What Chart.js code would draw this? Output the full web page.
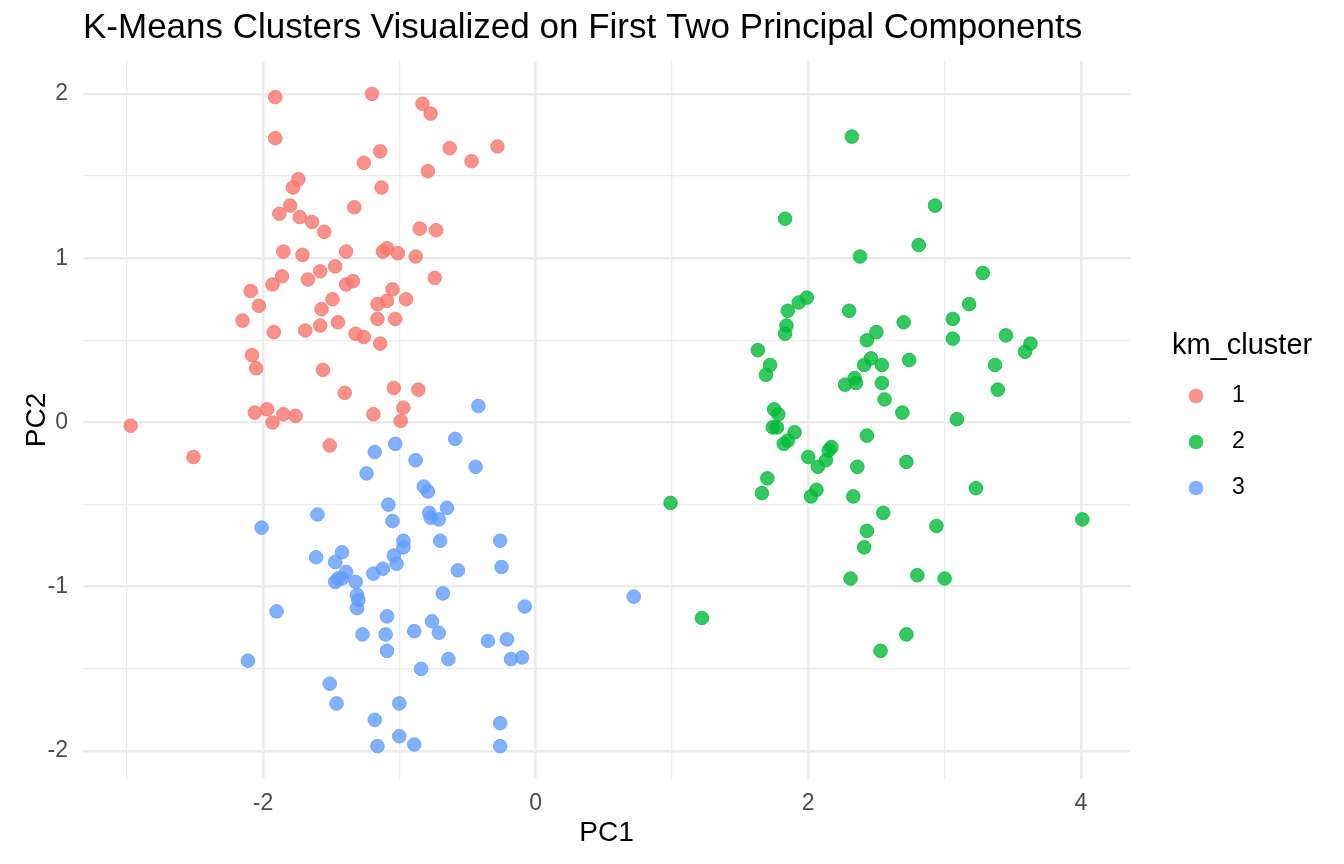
<!DOCTYPE html>
<html>
<head>
  <meta charset="UTF-8">
  <title>K-Means Clusters on PCA</title>
  <script src="https://cdn.jsdelivr.net/npm/chart.js"></script>
  <style>
    body {
      margin: 0;
      background: #fff;
    }
    #wrap {
      position: relative;
      width: 1344px;
      height: 864px;
    }
  </style>
</head>
<body>
<div id="wrap">
  <canvas id="chart"></canvas>
</div>

<script>
  // Cluster labels and colours (ggplot default hues)
  const clusterLabels = ['1', '2', '3'];
  const clusterColors = ['#F8766D', '#00BA38', '#619CFF'];

  // Cluster 1 (red)
  const clusterOnePC1 = [
    -1.91, -1.20, -0.83, -0.77, -1.91, -0.63, -0.28, -0.47, -1.14, -1.26,
    -0.79, -1.74, -1.78, -1.13, -1.80, -1.88, -1.73, -1.64, -1.55, -1.33,
    -0.85, -0.73, -1.85, -1.71, -1.39, -1.09, -1.12, -1.01, -0.88, -1.86,
    -1.67, -1.58, -1.47, -1.34, -1.39, -0.74, -1.93, -2.09, -2.03, -2.15,
    -1.92, -1.69, -1.58, -1.45, -1.57, -1.49, -1.05, -1.09, -1.16, -0.95,
    -1.16, -1.03, -1.32, -1.26, -1.14, -2.08, -2.05, -1.56, -1.40, -1.04,
    -0.86, -2.06, -1.97, -1.93, -1.85, -1.76, -1.19, -0.97, -0.99, -2.97,
    -2.51, -1.51
  ];
  const clusterOnePC2 = [
    1.98, 2.00, 1.94, 1.88, 1.73, 1.67, 1.68, 1.59, 1.65, 1.58,
    1.53, 1.48, 1.43, 1.43, 1.32, 1.27, 1.25, 1.22, 1.16, 1.31,
    1.18, 1.17, 1.04, 1.02, 1.04, 1.06, 1.04, 1.03, 1.01, 0.89,
    0.87, 0.92, 0.95, 0.86, 0.84, 0.88, 0.84, 0.80, 0.71, 0.62,
    0.55, 0.56, 0.59, 0.61, 0.69, 0.75, 0.81, 0.74, 0.72, 0.75,
    0.63, 0.63, 0.54, 0.52, 0.48, 0.41, 0.33, 0.32, 0.18, 0.21,
    0.20, 0.06, 0.08, 0.00, 0.05, 0.04, 0.05, 0.09, 0.01, -0.02,
    -0.21, -0.14
  ];

  // Cluster 2 (green)
  const clusterTwoPC1 = [
    2.32, 1.83, 2.93, 2.81, 2.38, 3.28, 3.18, 1.99, 1.93, 1.85,
    2.30, 2.70, 3.06, 1.84, 1.83, 2.50, 2.43, 3.06, 3.45, 3.63,
    3.59, 1.63, 1.72, 1.69, 2.46, 2.41, 2.54, 2.74, 3.37, 2.34,
    2.35, 2.27, 2.54, 2.56, 3.39, 2.69, 3.09, 1.75, 1.78, 1.74,
    1.77, 1.90, 1.85, 1.82, 2.43, 2.17, 2.15, 2.13, 2.00, 2.07,
    2.36, 2.72, 1.70, 1.66, 2.06, 3.23, 0.99, 2.02, 2.33, 2.55,
    2.43, 2.41, 2.94, 4.01, 2.31, 2.80, 3.00, 1.22, 2.72, 2.53
  ];
  const clusterTwoPC2 = [
    1.74, 1.24, 1.32, 1.08, 1.01, 0.91, 0.72, 0.76, 0.73, 0.68,
    0.68, 0.61, 0.63, 0.59, 0.54, 0.55, 0.50, 0.51, 0.53, 0.48,
    0.43, 0.44, 0.35, 0.29, 0.39, 0.35, 0.35, 0.38, 0.35, 0.27,
    0.24, 0.23, 0.24, 0.14, 0.20, 0.06, 0.02, 0.08, 0.05, -0.03,
    -0.03, -0.06, -0.11, -0.13, -0.08, -0.15, -0.17, -0.23, -0.21, -0.27,
    -0.27, -0.24, -0.34, -0.43, -0.41, -0.40, -0.49, -0.45, -0.45, -0.55,
    -0.66, -0.76, -0.63, -0.59, -0.95, -0.93, -0.95, -1.19, -1.29, -1.39
  ];

  // Cluster 3 (blue)
  const clusterThreePC1 = [
    -0.42, -0.59, -1.03, -1.18, -0.88, -0.44, -1.24, -0.82, -0.79, -1.08,
    -1.05, -0.65, -0.78, -0.77, -0.71, -1.60, -2.01, -0.97, -0.97, -0.70,
    -0.26, -0.25, -0.57, -1.04, -1.02, -1.12, -1.19, -1.42, -1.61, -1.47,
    -1.39, -1.45, -1.42, -1.47, -1.32, -0.68, -1.31, -1.30, -1.31, -0.08,
    -1.90, -1.09, -1.27, -1.10, -1.09, -0.89, -0.76, -0.71, -0.35, -0.21,
    -0.64, -0.84, -0.18, -0.10, -2.11, -1.51, -1.46, -1.00, -1.18, -1.00,
    -1.16, -0.89, -0.26, -0.26, 0.72
  ];
  const clusterThreePC2 = [
    0.10, -0.10, -0.13, -0.18, -0.23, -0.27, -0.31, -0.39, -0.42, -0.50,
    -0.60, -0.52, -0.55, -0.58, -0.59, -0.56, -0.64, -0.72, -0.76, -0.72,
    -0.72, -0.88, -0.90, -0.81, -0.86, -0.89, -0.92, -0.79, -0.82, -0.85,
    -0.91, -0.95, -0.95, -0.97, -0.97, -1.04, -1.05, -1.08, -1.13, -1.12,
    -1.15, -1.18, -1.29, -1.29, -1.39, -1.27, -1.21, -1.28, -1.33, -1.32,
    -1.44, -1.50, -1.44, -1.43, -1.45, -1.59, -1.71, -1.71, -1.81, -1.91,
    -1.97, -1.96, -1.83, -1.97, -1.06
  ];

  // Axis breaks: labelled (major) and all grid lines (major + minor)
  const xTickLabels = [-2, 0, 2, 4];
  const yTickLabels = [-2, -1, 0, 1, 2];
  const xGridValues = [-3, -2, -1, 0, 1, 2, 3, 4];
  const yGridValues = [-2, -1.5, -1, -0.5, 0, 0.5, 1, 1.5, 2];

  const FONT = '"Liberation Sans", Arial, Helvetica, sans-serif';
  Chart.defaults.font.family = FONT;

  function toPoints(xs, ys) {
    return xs.map((x, i) => ({ x: x, y: ys[i] }));
  }

  function withAlpha(hex, a) {
    const n = parseInt(hex.slice(1), 16);
    return `rgba(${(n >> 16) & 255}, ${(n >> 8) & 255}, ${n & 255}, ${a})`;
  }

  const seriesX = [clusterOnePC1, clusterTwoPC1, clusterThreePC1];
  const seriesY = [clusterOnePC2, clusterTwoPC2, clusterThreePC2];

  const datasets = clusterLabels.map((label, i) => ({
    label: label,
    data: toPoints(seriesX[i], seriesY[i]),
    backgroundColor: withAlpha(clusterColors[i], 0.8),
    borderColor: withAlpha(clusterColors[i], 0.8),
    borderWidth: 1,
    pointRadius: 6.8,
    pointHoverRadius: 6.8
  }));

  // Legend drawn on the right like ggplot's guide
  const clusterLegend = {
    id: 'clusterLegend',
    afterDraw(chart, args, opts) {
      const ctx = chart.ctx;
      ctx.save();
      ctx.textBaseline = 'middle';
      ctx.textAlign = 'left';
      ctx.fillStyle = '#000';
      ctx.font = `${opts.titleSize}px ${FONT}`;
      ctx.fillText(opts.title, opts.left, opts.titleY);
      chart.data.datasets.forEach((ds, i) => {
        const y = opts.firstY + i * opts.gap;
        ctx.beginPath();
        ctx.arc(opts.dotX, y, 7.3, 0, Math.PI * 2);
        ctx.fillStyle = ds.backgroundColor;
        ctx.fill();
        ctx.fillStyle = '#000';
        ctx.font = `${opts.labelSize}px ${FONT}`;
        ctx.fillText(ds.label, opts.textX, y);
      });
      ctx.restore();
    }
  };

  function gridWidth(majors) {
    return ctx => (ctx.tick && majors.includes(ctx.tick.value)) ? 2.6 : 1.3;
  }

  new Chart(document.getElementById('chart'), {
    type: 'scatter',
    data: { datasets },
    options: {
      responsive: true,
      maintainAspectRatio: false,
      animation: false,
      layout: { padding: { left: 0, right: 214, top: 0, bottom: 0 } },
      plugins: {
        legend: { display: false },
        tooltip: { enabled: false },
        title: {
          display: true,
          text: 'K-Means Clusters Visualized on First Two Principal Components',
          align: 'start',
          fullSize: false,
          color: '#000',
          font: { size: 35, weight: 'normal' },
          padding: { top: 7, bottom: 12 }
        },
        clusterLegend: {
          title: 'km_cluster',
          titleSize: 29,
          labelSize: 23,
          left: 1172,
          titleY: 346,
          dotX: 1196,
          textX: 1232,
          firstY: 396,
          gap: 46
        }
      },
      scales: {
        x: {
          type: 'linear',
          min: -3.32,
          max: 4.36,
          afterBuildTicks: s => { s.ticks = xGridValues.map(v => ({ value: v })); },
          afterFit: s => { s.height = 85; },
          border: { display: false },
          grid: { color: '#EBEBEB', lineWidth: gridWidth(xTickLabels), drawTicks: false },
          ticks: {
            autoSkip: false,
            maxRotation: 0,
            padding: 11,
            color: '#4D4D4D',
            font: { size: 23 },
            callback: v => xTickLabels.includes(v) ? String(v) : ''
          },
          title: {
            display: true,
            text: 'PC1',
            color: '#000',
            font: { size: 28 },
            padding: { top: 0, bottom: 14 }
          }
        },
        y: {
          type: 'linear',
          min: -2.17,
          max: 2.2,
          afterBuildTicks: s => { s.ticks = yGridValues.map(v => ({ value: v })); },
          afterFit: s => { s.width = 83; },
          border: { display: false },
          grid: { color: '#EBEBEB', lineWidth: gridWidth(yTickLabels), drawTicks: false },
          ticks: {
            autoSkip: false,
            padding: 15,
            color: '#4D4D4D',
            font: { size: 23 },
            callback: v => yTickLabels.includes(v) ? String(v) : ''
          },
          title: {
            display: true,
            text: 'PC2',
            color: '#000',
            font: { size: 28 },
            padding: { top: 20, bottom: 0 }
          }
        }
      }
    },
    plugins: [clusterLegend]
  });
</script>
</body>
</html>
